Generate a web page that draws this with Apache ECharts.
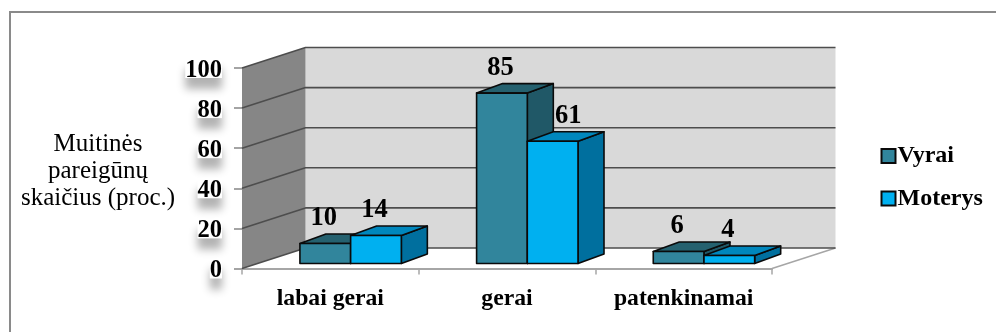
<!DOCTYPE html>
<html>
<head>
<meta charset="utf-8">
<style>html,body{margin:0;padding:0;background:#fff}#chart{width:996px;height:332px}</style>
<script src="https://cdn.jsdelivr.net/npm/echarts@6/dist/echarts.min.js"></script>
</head>
<body>
<div id="chart"></div>
<script>
const categories = ['labai gerai', 'gerai', 'patenkinamai'];
const vyrai = [10, 85, 6];
const moterys = [14, 61, 4];
const yTicks = [0, 20, 40, 60, 80, 100];
const yTitleLines = ['Muitinės', 'pareigūnų', 'skaičius (proc.)'];

// Depth of the box (wall projection) and of the bars themselves, in pixels.
const WALL_DX = 63.5, WALL_DY = -20.5;
const BAR_DX = 26, BAR_DY = -9.5;
const PAIR_DX = 20.3, PAIR_DY = -5;
const BAR_SHARE = 0.287;
const FONT = '"Liberation Serif", "Times New Roman", serif';

const palette = {
  Vyrai: { front: '#31859c', top: '#25616f', side: '#205867' },
  Moterys: { front: '#00b0f0', top: '#0087bd', side: '#006f9e' }
};

function poly(points, fill, stroke, width) {
  return {
    type: 'polygon',
    shape: { points },
    style: { fill, stroke: stroke || null, lineWidth: width || 0, lineJoin: 'round' }
  };
}

// Left wall, back wall and floor of the 3D box.
function renderBox(params, api) {
  const b = api.coord([0, 0]);
  const band = api.size([1, 0])[0];
  const x0 = b[0] - band / 2;
  const x1 = x0 + band * categories.length;
  const y0 = b[1];
  const y1 = api.coord([0, 100])[1];
  return {
    type: 'group',
    children: [
      poly([[x0 + WALL_DX, y1 + WALL_DY], [x1 + WALL_DX, y1 + WALL_DY], [x1 + WALL_DX, y0 + WALL_DY], [x0 + WALL_DX, y0 + WALL_DY]], '#d9d9d9'),
      poly([[x0, y1], [x0 + WALL_DX, y1 + WALL_DY], [x0 + WALL_DX, y0 + WALL_DY], [x0, y0]], '#868686'),
      { type: 'line', shape: { x1: x1, y1: y0, x2: x1 + WALL_DX, y2: y0 + WALL_DY }, style: { stroke: '#a6a6a6', lineWidth: 1.5 } }
    ]
  };
}

// One gridline per tick: across the side wall, then across the back wall.
function renderGridline(params, api) {
  const p = api.coord([0, api.value(1)]);
  const band = api.size([1, 0])[0];
  const x0 = p[0] - band / 2;
  const x1 = x0 + band * categories.length;
  const style = { stroke: '#4d4d4d', lineWidth: 1.6, fill: null, lineJoin: 'round' };
  return {
    type: 'polyline',
    shape: { points: [[x0, p[1]], [x0 + WALL_DX, p[1] + WALL_DY], [x1 + WALL_DX, p[1] + WALL_DY]] },
    style
  };
}

// A box-shaped bar with its value written above the front face.
function barRenderer(seriesName, slot) {
  const c = palette[seriesName];
  return function (params, api) {
    const idx = api.value(0);
    const val = api.value(1);
    const base = api.coord([idx, 0]);
    const top = api.coord([idx, val]);
    const w = api.size([1, 0])[0] * BAR_SHARE;
    const l = base[0] + PAIR_DX - w + slot * w;
    const r = l + w;
    const yb = base[1] + PAIR_DY;
    const yt = top[1] + PAIR_DY;
    const edge = '#0a0a0a';
    // The shorter bar's number sits right of its taller neighbour on the middle pair.
    const nudge = (val === 61) ? 17 : 0;
    return {
      type: 'group',
      children: [
        poly([[r, yb], [r + BAR_DX, yb + BAR_DY], [r + BAR_DX, yt + BAR_DY], [r, yt]], c.side, edge, 1.6),
        poly([[l, yt], [l + BAR_DX, yt + BAR_DY], [r + BAR_DX, yt + BAR_DY], [r, yt]], c.top, edge, 1.6),
        poly([[l, yb], [r, yb], [r, yt], [l, yt]], c.front, edge, 1.6),
        {
          type: 'text',
          style: {
            text: String(val),
            x: (l + r) / 2 + nudge - 1.5,
            y: yt - 25,
            align: 'center',
            verticalAlign: 'middle',
            font: 'bold 26.5px ' + FONT,
            fill: '#000'
          }
        }
      ]
    };
  };
}

const chart = echarts.init(document.getElementById('chart'), null, { renderer: 'canvas' });

chart.setOption({
  animation: false,
  backgroundColor: '#fff',
  graphic: [{
    // Frame runs along the top and left edges only.
    type: 'polyline',
    z: -1,
    shape: { points: [[10, 332], [10, 12], [996, 12]] },
    style: { fill: null, stroke: '#8a8a8a', lineWidth: 2 }
  }],
  grid: { left: 242, top: 68, width: 530, height: 200.5, containLabel: false },
  legend: {
    data: ['Vyrai', 'Moterys'],
    orient: 'vertical',
    left: 875.5,
    top: 139,
    itemWidth: 14,
    itemHeight: 14,
    itemGap: 18.5,
    icon: 'rect',
    textStyle: { fontFamily: FONT, fontWeight: 'bold', fontSize: 24, color: '#000', padding: [0, 0, 0, -3] }
  },
  xAxis: {
    type: 'category',
    data: categories,
    boundaryGap: true,
    axisLine: { show: true, lineStyle: { color: '#a6a6a6', width: 2 } },
    axisTick: { show: true, length: 6, lineStyle: { color: '#a6a6a6', width: 1.5 } },
    axisLabel: { color: '#000', fontFamily: FONT, fontWeight: 'bold', fontSize: 23.7, margin: 18, interval: 0 },
    splitLine: { show: false }
  },
  yAxis: {
    type: 'value',
    min: 0,
    max: 100,
    interval: 20,
    name: yTitleLines.map(line => `{line|${line}}`).join('\n'),
    nameLocation: 'middle',
    nameRotate: 0,
    nameGap: 144,
    nameTextStyle: {
      align: 'center',
      verticalAlign: 'middle',
      rich: {
        line: { color: '#000', fontFamily: FONT, fontSize: 25, lineHeight: 27, padding: [6, 0, 0, 0] }
      }
    },
    axisLine: { show: false },
    axisTick: { show: true, length: 8, lineStyle: { color: '#868686', width: 1.5 } },
    splitLine: { show: false },
    axisLabel: {
      margin: 20,
      formatter: v => `{tick|${v}}`,
      rich: {
        tick: {
          color: '#000',
          fontFamily: FONT,
          fontWeight: 'bold',
          fontSize: 24.5,
          lineHeight: 20,
          padding: [5, 0, 0, 0]
        }
      },
      backgroundColor: '#fff',
      shadowColor: 'rgba(0,0,0,0.3)',
      shadowBlur: 9,
      shadowOffsetY: 11
    }
  },
  series: [
    {
      type: 'custom', name: 'box', silent: true, z: 1, clip: false,
      data: [[0, 0]], renderItem: renderBox,
      encode: { x: 0, y: 1 }
    },
    {
      type: 'custom', name: 'grid', silent: true, z: 2, clip: false,
      data: yTicks.map(t => [0, t]), renderItem: renderGridline,
      encode: { x: 0, y: 1 }
    },
    {
      type: 'custom', name: 'Vyrai', z: 3, clip: false,
      itemStyle: { color: palette.Vyrai.front, borderColor: '#0a0a0a', borderWidth: 1.5 },
      data: vyrai.map((v, i) => [i, v]), renderItem: barRenderer('Vyrai', 0),
      encode: { x: 0, y: 1 }
    },
    {
      type: 'custom', name: 'Moterys', z: 4, clip: false,
      itemStyle: { color: palette.Moterys.front, borderColor: '#0a0a0a', borderWidth: 1.5 },
      data: moterys.map((v, i) => [i, v]), renderItem: barRenderer('Moterys', 1),
      encode: { x: 0, y: 1 }
    }
  ]
});
</script>
</body>
</html>
